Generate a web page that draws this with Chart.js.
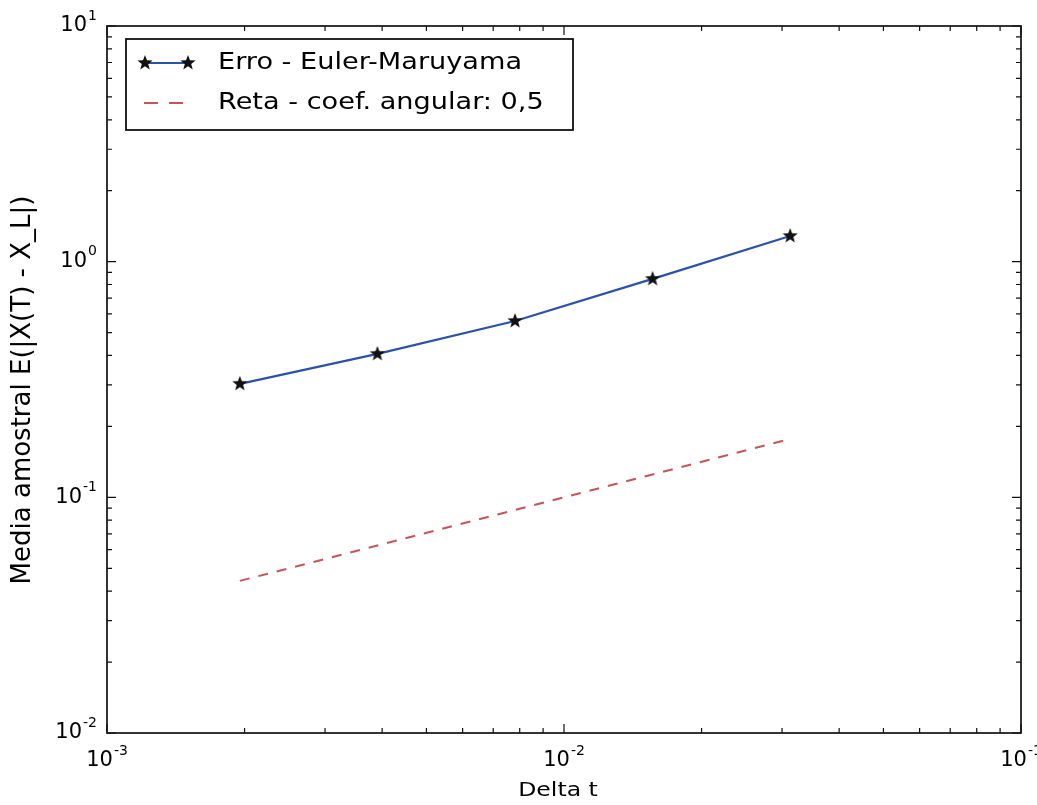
<!DOCTYPE html>
<html>
<head>
<meta charset="utf-8">
<script src="https://cdn.jsdelivr.net/npm/chart.js@4/dist/chart.umd.min.js"></script>
<style>
  html, body { margin:0; padding:0; background:#fff; }
  #wrap { width:1037px; height:805px; position:relative; }
</style>
</head>
<body>
<div id="wrap"><canvas id="chart"></canvas></div>
<script>
const deltaT = [0.001953125, 0.00390625, 0.0078125, 0.015625, 0.03125];
const erro = [0.303, 0.406, 0.56, 0.845, 1.285];
const reta = [0.0442, 0.0625, 0.0884, 0.125, 0.177];
const xTickExp = [-3, -2, -1];
const yTickExp = [-2, -1, 0, 1];
const labelErro = 'Erro - Euler-Maruyama';
const labelReta = 'Reta - coef. angular: 0,5';
const xTitle = 'Delta t';
const yTitle = 'Media amostral E(|X(T) - X_L|)';

const FONT = '"DejaVu Sans", "Liberation Sans", sans-serif';
const BLUE = '#2a52a8';
const RED = '#c4555a';
const SX = 1.18; // the scan is a little wider than tall

function starCanvas(r){
  const c = document.createElement('canvas');
  c.width = c.height = Math.ceil(r*2+2);
  const g = c.getContext('2d');
  const cx = c.width/2, cy = c.height/2;
  g.beginPath();
  for (let i=0;i<10;i++){
    const a = -Math.PI/2 + i*Math.PI/5;
    const rr = i%2 ? r*0.42 : r;
    g.lineTo(cx+rr*Math.cos(a), cy+rr*Math.sin(a));
  }
  g.closePath();
  g.fillStyle = '#111';
  g.fill();
  return c;
}
const star = starCanvas(8);

function drawPow(ctx, exp, x, y, align){
  ctx.save();
  ctx.fillStyle = '#000';
  ctx.textBaseline = 'middle';
  ctx.font = '21px ' + FONT;
  const base = '10', e = String(exp);
  const bw = ctx.measureText(base).width;
  ctx.font = '14px ' + FONT;
  const ew = ctx.measureText(e).width;
  const total = bw + ew + 1;
  const left = align === 'right' ? x - total : x - total/2;
  ctx.font = '21px ' + FONT;
  ctx.textAlign = 'left';
  ctx.fillText(base, left, y);
  ctx.font = '14px ' + FONT;
  ctx.fillText(e, left + bw + 1, y - 10);
  ctx.restore();
}

function wideText(ctx, txt, x, y, align){
  ctx.save();
  ctx.translate(x, y);
  ctx.scale(SX, 1);
  ctx.textAlign = align;
  ctx.fillText(txt, 0, 0);
  ctx.restore();
}

const decor = {
  id: 'decor',
  afterDraw(chart){
    const {ctx, chartArea: ca, scales: {x, y}} = chart;
    ctx.save();
    ctx.strokeStyle = '#111';
    ctx.lineWidth = 1.7;
    ctx.strokeRect(ca.left, ca.top, ca.right-ca.left, ca.bottom-ca.top);
    ctx.lineWidth = 1.2;
    ctx.beginPath();
    for (let d=-3; d<=-1; d++){
      for (let m=1; m<=9; m++){
        const v = m*Math.pow(10,d);
        if (v < x.min*0.999 || v > x.max*1.001) continue;
        const px = x.getPixelForValue(v), len = m===1 ? 9 : 5;
        ctx.moveTo(px, ca.bottom); ctx.lineTo(px, ca.bottom-len);
        ctx.moveTo(px, ca.top); ctx.lineTo(px, ca.top+len);
      }
    }
    for (let d=-2; d<=1; d++){
      for (let m=1; m<=9; m++){
        const v = m*Math.pow(10,d);
        if (v < y.min*0.999 || v > y.max*1.001) continue;
        const py = y.getPixelForValue(v), len = m===1 ? 9 : 5;
        ctx.moveTo(ca.left, py); ctx.lineTo(ca.left+len, py);
        ctx.moveTo(ca.right, py); ctx.lineTo(ca.right-len, py);
      }
    }
    ctx.stroke();
    xTickExp.forEach(e => drawPow(ctx, e, x.getPixelForValue(Math.pow(10,e)), ca.bottom+28, 'center'));
    yTickExp.forEach(e => drawPow(ctx, e, ca.left-10, y.getPixelForValue(Math.pow(10,e)), 'right'));
    // axis titles
    ctx.fillStyle = '#000';
    ctx.textBaseline = 'middle';
    ctx.font = '20px ' + FONT;
    wideText(ctx, xTitle, (ca.left+ca.right)/2 - 6, 791, 'center');
    ctx.save();
    ctx.translate(23, 390);
    ctx.rotate(-Math.PI/2);
    ctx.font = '26px ' + FONT;
    ctx.textAlign = 'center';
    ctx.fillText(yTitle, 0, 0);
    ctx.restore();
    // legend
    const lx = 126, ly = 39, lw = 447, lh = 91;
    ctx.fillStyle = '#fff';
    ctx.fillRect(lx, ly, lw, lh);
    ctx.strokeStyle = '#111';
    ctx.lineWidth = 1.8;
    ctx.strokeRect(lx, ly, lw, lh);
    const r1 = 63, r2 = 103;
    ctx.strokeStyle = BLUE; ctx.lineWidth = 1.8;
    ctx.beginPath(); ctx.moveTo(145, r1); ctx.lineTo(188, r1); ctx.stroke();
    ctx.drawImage(star, 145-star.width/2, r1-star.height/2);
    ctx.drawImage(star, 188-star.width/2, r1-star.height/2);
    ctx.strokeStyle = RED; ctx.lineWidth = 2;
    ctx.setLineDash([14, 11]);
    ctx.beginPath(); ctx.moveTo(144, r2); ctx.lineTo(190, r2); ctx.stroke();
    ctx.setLineDash([]);
    ctx.fillStyle = '#000';
    ctx.font = '23px ' + FONT;
    wideText(ctx, labelErro, 218, r1, 'left');
    wideText(ctx, labelReta, 218, r2, 'left');
    ctx.restore();
  }
};

new Chart(document.getElementById('chart'), {
  type: 'line',
  data: {
    datasets: [
      { label: labelErro, data: deltaT.map((t,i)=>({x:t, y:erro[i]})),
        borderColor: BLUE, borderWidth: 2.2, pointStyle: star, pointRadius: 8,
        backgroundColor: '#111', tension: 0 },
      { label: labelReta, data: deltaT.map((t,i)=>({x:t, y:reta[i]})),
        borderColor: RED, borderWidth: 2, borderDash: [10, 9], pointRadius: 0, tension: 0 }
    ]
  },
  options: {
    responsive: true,
    maintainAspectRatio: false,
    animation: false,
    layout: { padding: { top: 26, right: 16, left: 0, bottom: 0 } },
    plugins: { legend: { display: false }, tooltip: { enabled: false } },
    scales: {
      x: { type: 'logarithmic', min: 0.001, max: 0.1,
        grid: { display: false }, border: { display: false }, ticks: { display: false },
        afterFit: s => { s.height = 72; } },
      y: { type: 'logarithmic', min: 0.01, max: 10,
        grid: { display: false }, border: { display: false }, ticks: { display: false },
        afterFit: s => { s.width = 107; } }
    }
  },
  plugins: [decor]
});
</script>
</body>
</html>
